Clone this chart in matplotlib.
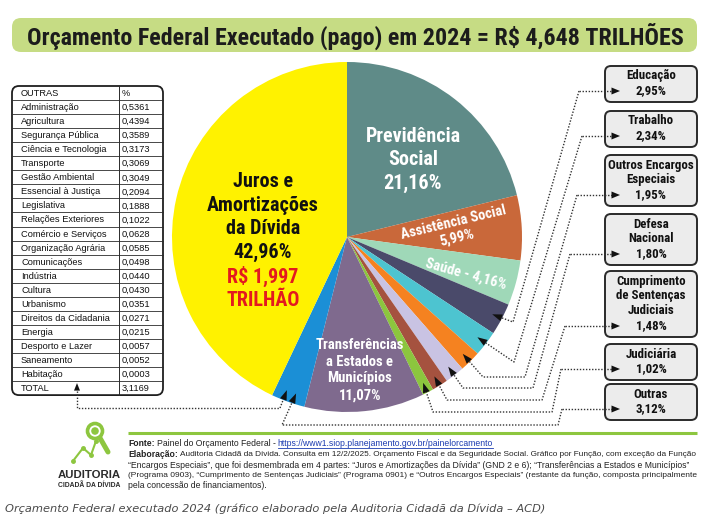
import matplotlib
matplotlib.use('Agg')
import matplotlib.pyplot as plt
from matplotlib.patches import FancyBboxPatch, Polygon, Circle
from matplotlib import font_manager
import numpy as np

# ---------------- data ----------------
title = "Orçamento Federal Executado (pago) em 2024 = R$ 4,648 TRILHÕES"

slice_names = ["Previdência Social", "Assistência Social", "Saúde", "Educação", "Trabalho",
               "Outros Encargos Especiais", "Defesa Nacional",
               "Cumprimento de Sentenças Judiciais", "Judiciária",
               "Transferências a Estados e Municípios", "Outras",
               "Juros e Amortizações da Dívida"]
slice_values = [21.16, 5.99, 4.16, 2.95, 2.34, 1.95, 1.80, 1.48, 1.02, 11.07, 3.12, 42.96]
slice_colors = ["#5f8b88", "#c9683a", "#9fd8b8", "#4a4a6a", "#4dc4d0", "#f58220",
                "#c9c3e3", "#a5523f", "#8cc63e", "#7f6a8e", "#1b8fd6", "#fff200"]
juros_valor = "R$ 1,997\nTRILHÃO"

box_labels = ["Educação", "Trabalho", "Outros Encargos\nEspeciais", "Defesa\nNacional",
              "Cumprimento\nde Sentenças\nJudiciais", "Judiciária", "Outras"]
box_slice_idx = [3, 4, 5, 6, 7, 8, 10]

table_names = ["Administração", "Agricultura", "Segurança Pública", "Ciência e Tecnologia",
               "Transporte", "Gestão Ambiental", "Essencial à Justiça", "Legislativa",
               "Relações Exteriores", "Comércio e Serviços", "Organização Agrária",
               "Comunicações", "Indústria", "Cultura", "Urbanismo", "Direitos da Cidadania",
               "Energia", "Desporto e Lazer", "Saneamento", "Habitação"]
table_values = [0.5361, 0.4394, 0.3589, 0.3173, 0.3069, 0.3049, 0.2094, 0.1888, 0.1022,
                0.0628, 0.0585, 0.0498, 0.0440, 0.0430, 0.0351, 0.0271, 0.0215, 0.0057,
                0.0052, 0.0003]
table_total = 3.1169

fonte_url = "https://www1.siop.planejamento.gov.br/painelorcamento"
elab_lines = [
    "Auditoria Cidadã da Dívida. Consulta em 12/2/2025. Orçamento Fiscal e da Seguridade Social. Gráfico por Função, com exceção da Função",
    "“Encargos Especiais”, que foi desmembrada em 4 partes: “Juros e Amortizações da Dívida” (GND 2 e 6); “Transferências a Estados e Municípios”",
    "(Programa 0903), “Cumprimento de Sentenças Judiciais” (Programa 0901) e “Outros Encargos Especiais” (restante da função, composta principalmente",
    "pela concessão de financiamentos).",
]
caption = "Orçamento Federal executado 2024 (gráfico elaborado pela Auditoria Cidadã da Dívida – ACD)"


def br(v, nd=2):
    return f"{v:.{nd}f}".replace('.', ',')


# ---------------- fonts ----------------
avail = {f.name for f in font_manager.fontManager.ttflist}
COND = next((f for f in ['Roboto Condensed', 'Liberation Sans Narrow', 'DejaVu Sans Condensed',
                         'Open Sans Condensed'] if f in avail), 'Liberation Sans')
REG = 'Liberation Sans' if 'Liberation Sans' in avail else 'DejaVu Sans'

# ---------------- figure ----------------
W, H = 712, 523
fig = plt.figure(figsize=(W / 100, H / 100), dpi=100)
fig.patch.set_facecolor('white')
ax = fig.add_axes([0, 0, 1, 1])
renderer = fig.canvas.get_renderer()

CX, CY, R = 347, 237, 175
ax.pie(slice_values, colors=slice_colors, startangle=-90, counterclock=True,
       center=(CX, CY), radius=R, wedgeprops=dict(linewidth=0))
ax.set_xlim(0, W)
ax.set_ylim(H, 0)
ax.set_aspect('auto')
ax.axis('off')

cum = np.concatenate([[0], np.cumsum(slice_values)])


def mid_angle(i, off=0.0):
    return 90 - 3.6 * (cum[i] + slice_values[i] / 2) + off


def polar(a, rf):
    t = np.deg2rad(a)
    return (CX + R * rf * np.cos(t), CY - R * rf * np.sin(t))


def fit(t, width):
    bb = t.get_window_extent(renderer)
    t.set_fontsize(t.get_fontsize() * width / bb.width)
    return t


# ---------------- title bar ----------------
ax.add_patch(FancyBboxPatch((12, 18), 685, 34, boxstyle='round,pad=0,rounding_size=9',
                            fc='#c6dc84', ec='none', zorder=1))
t = ax.text(355, 36, title, ha='center', va='center', family=COND, weight='bold',
            fontsize=16, color='#1c1c1c', zorder=2)
fit(t, 658)

# ---------------- pie labels ----------------
ax.text(413, 160, f"Previdência\nSocial\n{br(slice_values[0])}%", ha='center', va='center',
        family=COND, weight='bold', fontsize=14.5, color='white', linespacing=1.32, zorder=3)
ax.text(263, 217, f"Juros e\nAmortizações\nda Dívida\n{br(slice_values[11])}%", ha='center',
        va='center', family=COND, weight='bold', fontsize=14.5, color='#111111',
        linespacing=1.32, zorder=3)
ax.text(263, 288, juros_valor, ha='center', va='center', family=COND, weight='bold',
        fontsize=14.5, color='#e3191f', linespacing=1.3, zorder=3)
ax.text(455, 230, f"{slice_names[1]}\n{br(slice_values[1])}%", ha='center', va='center',
        family=COND, weight='bold', fontsize=10.5, color='white', rotation=13.5,
        rotation_mode='anchor', linespacing=1.1, zorder=3)
ax.text(466, 274, f"{slice_names[2]} - {br(slice_values[2])}%", ha='center', va='center',
        family=COND, weight='bold', fontsize=10.5, color='white', rotation=-15.5,
        rotation_mode='anchor', zorder=3)
ax.text(360, 370, f"Transferências\na Estados e\nMunicípios\n{br(slice_values[9])}%",
        ha='center', va='center', family=COND, weight='bold', fontsize=10.5, color='white',
        linespacing=1.25, zorder=3)

# ---------------- leader helpers ----------------
LC = '#333333'
DOT = (0, (1.0, 1.2))


def head(tip, frm, L=10.0, Wd=7.0):
    tip = np.array(tip, float)
    frm = np.array(frm, float)
    d = tip - frm
    d /= np.linalg.norm(d)
    n = np.array([-d[1], d[0]])
    base = tip - d * L
    ax.add_patch(Polygon([tip, base + n * Wd / 2, base - n * Wd / 2], closed=True,
                         fc='#111111', ec='none', zorder=7))
    return base


def leader(pts, tip):
    last = pts[-1]
    base = head(tip, last)
    xs = [p[0] for p in pts] + [base[0]]
    ys = [p[1] for p in pts] + [base[1]]
    ax.plot(xs, ys, color=LC, lw=1.0, ls=DOT, zorder=6, solid_capstyle='butt')


# ---------------- right boxes ----------------
arrow_y = [91, 136, 195, 254, 326, 369, 409]
BX0, BX1 = 605, 697
elbows = [
    [(579, 91), (513, 322)],
    [(582, 136), (514, 362)],
    [(577, 195), (525, 377), (483, 377)],
    [(570, 254), (533, 388), (463, 388)],
    [(565, 326), (542, 400), (447, 400)],
    [(561, 369), (552, 412), (433, 412)],
    [(562, 409), (558, 425), (282, 425)],
]
tip_offsets = [0, 0, 0, 0, 0, 0, 1.7]

for k, (lab, si) in enumerate(zip(box_labels, box_slice_idx)):
    lines = lab.split('\n') + [br(slice_values[si]) + '%']
    n = len(lines)
    ay = arrow_y[k]
    first = ay - 15 * (n - 1)
    top = first - 10
    bot = ay + 11
    ax.add_patch(FancyBboxPatch((BX0, top), BX1 - BX0, bot - top,
                                boxstyle='round,pad=0,rounding_size=6',
                                fc='#ececec', ec='#2a2a2a', lw=1.4, zorder=4))
    for j, ln in enumerate(lines):
        ax.text(651, first + 15 * j, ln, ha='center', va='center', family=COND,
                weight='bold', fontsize=9.3, color='#111111', zorder=5)
    head((620, ay), (605, ay), L=8.5, Wd=7)
    ax.plot([elbows[k][0][0], 612], [ay, ay], color=LC, lw=1.0, ls=DOT, zorder=6)
    tip = polar(mid_angle(si, tip_offsets[k]), 0.94)
    leader(elbows[k], tip)

# ---------------- table ----------------
TX0, TX1, TXD = 12, 163, 119
TTOP, RH = 86, 14.05
nrows = len(table_names) + 2
TBOT = TTOP + RH * nrows
ax.add_patch(FancyBboxPatch((TX0, TTOP), TX1 - TX0, TBOT - TTOP,
                            boxstyle='round,pad=0,rounding_size=7',
                            fc='white', ec='#1f1f1f', lw=1.3, zorder=4))
for r in range(1, nrows):
    yy = TTOP + RH * r
    ax.plot([TX0, TX1], [yy, yy], color='#2a2a2a', lw=0.6, zorder=5)
ax.plot([TXD, TXD], [TTOP, TBOT], color='#2a2a2a', lw=0.7, zorder=5)

rows = [("OUTRAS", "%")] + [(nm, br(v, 4)) for nm, v in zip(table_names, table_values)] \
       + [("TOTAL", br(table_total, 4))]
for r, (nm, val) in enumerate(rows):
    yc = TTOP + RH * (r + 0.5)
    ax.text(21, yc + 0.5, nm, ha='left', va='center', family=REG, fontsize=6.7,
            color='#111111', zorder=6)
    ax.text(122, yc + 0.5, val, ha='left', va='center', family=REG, fontsize=6.7,
            color='#111111', zorder=6)

# arrow from table TOTAL to "Outras" slice
tb = head((77, TBOT - 12), (77, TBOT + 5), L=7.5, Wd=6)
ax.plot([77, 77, 280], [tb[1], 408, 408], color=LC, lw=1.0, ls=DOT, zorder=6)
leader([(280, 408)], polar(mid_angle(10, -1.7), 0.94))

# ---------------- footer ----------------
ax.plot([128, 697], [433, 433], color='#8dc63f', lw=2.2, zorder=3,
        solid_capstyle='butt')

ty = [444, 454.5, 465, 475.5, 486]
FONT_FOOT = REG
probe = ax.text(128, ty[2], elab_lines[1], ha='left', va='center', family=FONT_FOOT,
                fontsize=6.0, color='#222222')
fit(probe, 560)
FS = probe.get_fontsize()

t1 = ax.text(128, ty[0], "Fonte:", ha='left', va='center', family=FONT_FOOT, weight='bold',
             fontsize=FS, color='#222222')
bb = t1.get_window_extent(renderer)
t2 = ax.text(128 + bb.width + 2, ty[0], "Painel do Orçamento Federal - ", ha='left',
             va='center', family=FONT_FOOT, fontsize=FS, color='#222222')
bb2 = t2.get_window_extent(renderer)
x_url = 128 + bb.width + 2 + bb2.width
t3 = ax.text(x_url, ty[0], fonte_url, ha='left', va='center', family=FONT_FOOT,
             fontsize=FS, color='#1a3ab0')
bb3 = t3.get_window_extent(renderer)
ax.plot([x_url, x_url + bb3.width], [ty[0] + 4.3, ty[0] + 4.3], color='#1a3ab0', lw=0.6)

e1 = ax.text(128, ty[1], "Elaboração:", ha='left', va='center', family=FONT_FOOT,
             weight='bold', fontsize=FS, color='#222222')
be = e1.get_window_extent(renderer)
e2 = ax.text(128 + be.width + 2, ty[1], elab_lines[0], ha='left', va='center',
             family=FONT_FOOT, fontsize=FS, color='#222222')
fit(e2, 697 - (128 + be.width + 2))
e4 = ax.text(128, ty[3], elab_lines[2], ha='left', va='center', family=FONT_FOOT,
             fontsize=FS, color='#222222')
fit(e4, 569)
ax.text(128, ty[4], elab_lines[3], ha='left', va='center', family=FONT_FOOT,
        fontsize=FS, color='#222222')

# logo
G = '#8dc63f'
ax.add_patch(Circle((95, 431), 7.5, fc='none', ec=G, lw=2.6, zorder=5))
ax.add_patch(Circle((95, 431), 3.8, fc=G, ec='none', zorder=5))
ax.plot([100, 108], [438, 452], color=G, lw=3.6, solid_capstyle='round', zorder=5)
ax.plot([73, 83, 91, 96], [461, 448, 455, 441], color=G, lw=1.5, zorder=5,
        marker='o', ms=2.5, mfc=G, mec=G)
ta = ax.text(89, 475, "AUDITORIA", ha='center', va='center', family=REG, weight='bold',
             fontsize=10, color='#2b2b2b')
fit(ta, 63)
tc = ax.text(89, 485.5, "CIDADÃ DA DÍVIDA", ha='center', va='center', family=REG,
             weight='bold', fontsize=5, color='#2b2b2b')
fit(tc, 63)

# caption
tcap = ax.text(5, 509, caption, ha='left', va='center', family='DejaVu Sans',
               style='italic', weight='light', fontsize=8, color='#4a4a4a')
fit(tcap, 543)

fig.savefig('out.png', dpi=100, facecolor='white')
